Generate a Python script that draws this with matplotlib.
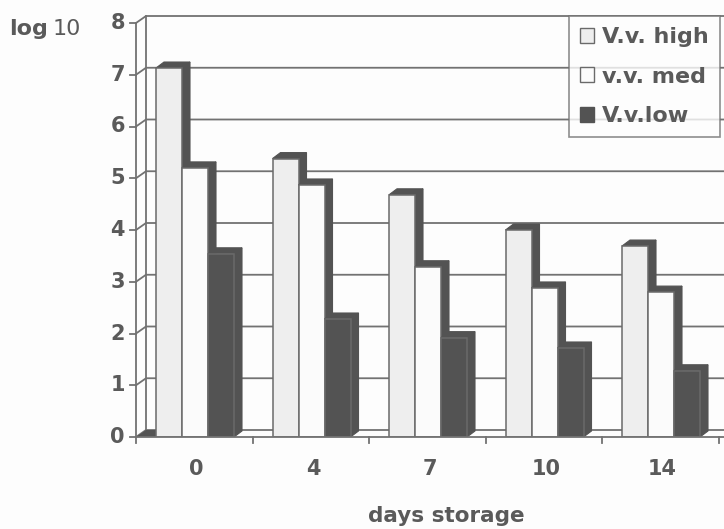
import numpy as np
import matplotlib
matplotlib.use("Agg")
import matplotlib.pyplot as plt
from matplotlib.patches import Polygon, Patch

# data (log10 counts)
days = ["0", "4", "7", "10", "14"]
high = [7.13, 5.38, 4.68, 4.0, 3.69]
med = [5.2, 4.87, 3.29, 2.88, 2.8]
low = [3.54, 2.28, 1.92, 1.72, 1.28]
series_names = ["V.v. high", "v.v. med", "V.v.low"]
y_ticks = [0, 1, 2, 3, 4, 5, 6, 7, 8]

txt = "#5a5a5a"
grid_c = "#727272"
dark = "#535353"
edge = "#6a6a6a"
fronts = ["#eeeeee", "#fbfbfb", dark]

plt.rcParams['font.family'] = ['DejaVu Sans']

fig = plt.figure(figsize=(7.24, 5.29), dpi=100)
fig.patch.set_facecolor("#fdfdfd")
ax = fig.add_axes([136/724, (529-437)/529, (724-136)/724, 424/529])
ax.set_xlim(0, 588/116.5)
ax.set_ylim(0, 424/51.75)
ax.axis("off")

# 3d offsets (data units)
dxw, dyw = 10/116.5, 7/51.75     # back wall
dx, dy = 8/116.5, 6/51.75        # bar depth
x_end = 588/116.5
lw = 1.3

# back wall gridlines
for t in y_ticks:
    ax.plot([0, dxw, x_end], [t, t+dyw, t+dyw], color=grid_c, lw=lw, zorder=1, clip_on=False)
    ax.plot([-0.05, 0], [t, t], color=grid_c, lw=lw, zorder=1, clip_on=False)
    ax.text(-0.095, t, str(t), ha="right", va="center", fontsize=15, fontweight="bold", color=txt)
ax.plot([dxw, dxw], [dyw, 8+dyw], color=grid_c, lw=lw, zorder=1, clip_on=False)
ax.plot([0, 0], [0, 8], color=grid_c, lw=lw, zorder=1, clip_on=False)

# dark floor wedge on the left
off0 = 20/116.5
ax.add_patch(Polygon([[0, 0], [dxw, dyw], [off0, dyw], [off0, 0]], closed=True,
                     facecolor=dark, edgecolor="none", zorder=1.5))

# bars
bw = 26/116.5
vals = [high, med, low]
for k in range(len(days)):
    for s in range(3):
        x0 = k + off0 + s*bw
        x1 = x0 + bw
        v = vals[s][k]
        side = [[x1, 0], [x1+dx, dy], [x1+dx, v+dy], [x1, v]]
        top = [[x0, v], [x0+dx, v+dy], [x1+dx, v+dy], [x1, v]]
        z = 2 + s*0.1
        ax.add_patch(Polygon(side, closed=True, facecolor=dark, edgecolor=dark, lw=0.8, zorder=z))
        ax.add_patch(Polygon(top, closed=True, facecolor=dark, edgecolor=dark, lw=0.8, zorder=z))
        ax.bar(x0, v, width=bw, align="edge", color=fronts[s], edgecolor=edge, lw=1.1, zorder=z+0.05)

# x axis
ax.plot([0, x_end], [0, 0], color=grid_c, lw=lw, zorder=3, clip_on=False)
for k in range(len(days) + 1):
    ax.plot([k, k], [0, -0.12], color=grid_c, lw=lw, zorder=3, clip_on=False)
for k, d in enumerate(days):
    ax.text(k + 0.52, -0.62, d, ha="center", va="center", fontsize=15, fontweight="bold", color=txt)

fig.text(446/724, 1-516/529, "days storage", ha="center", va="center", fontsize=15.5,
         fontweight="bold", color=txt)
fig.text(48/724, 1-29/529, "log", ha="right", va="center", fontsize=16, fontweight="bold", color=txt)
fig.text(53/724, 1-29/529, "10", ha="left", va="center", fontsize=16, color=txt)

handles = [Patch(facecolor=fronts[0], edgecolor=edge),
           Patch(facecolor=fronts[1], edgecolor=edge),
           Patch(facecolor=fronts[2], edgecolor=dark)]
leg = fig.legend(handles, series_names, loc="upper right", bbox_to_anchor=(720/724, 1-16/529),
                 frameon=True, fancybox=False, borderaxespad=0, handlelength=0.65, handleheight=0.65,
                 handletextpad=0.35, labelspacing=0.88, borderpad=0.5,
                 prop={"size": 16, "weight": "bold"})
leg.get_frame().set_edgecolor(grid_c)
leg.get_frame().set_linewidth(1.2)
leg.get_frame().set_facecolor("#fdfdfd")
for t in leg.get_texts():
    t.set_color(txt)

fig.savefig("out.png", dpi=100, facecolor=fig.get_facecolor())
